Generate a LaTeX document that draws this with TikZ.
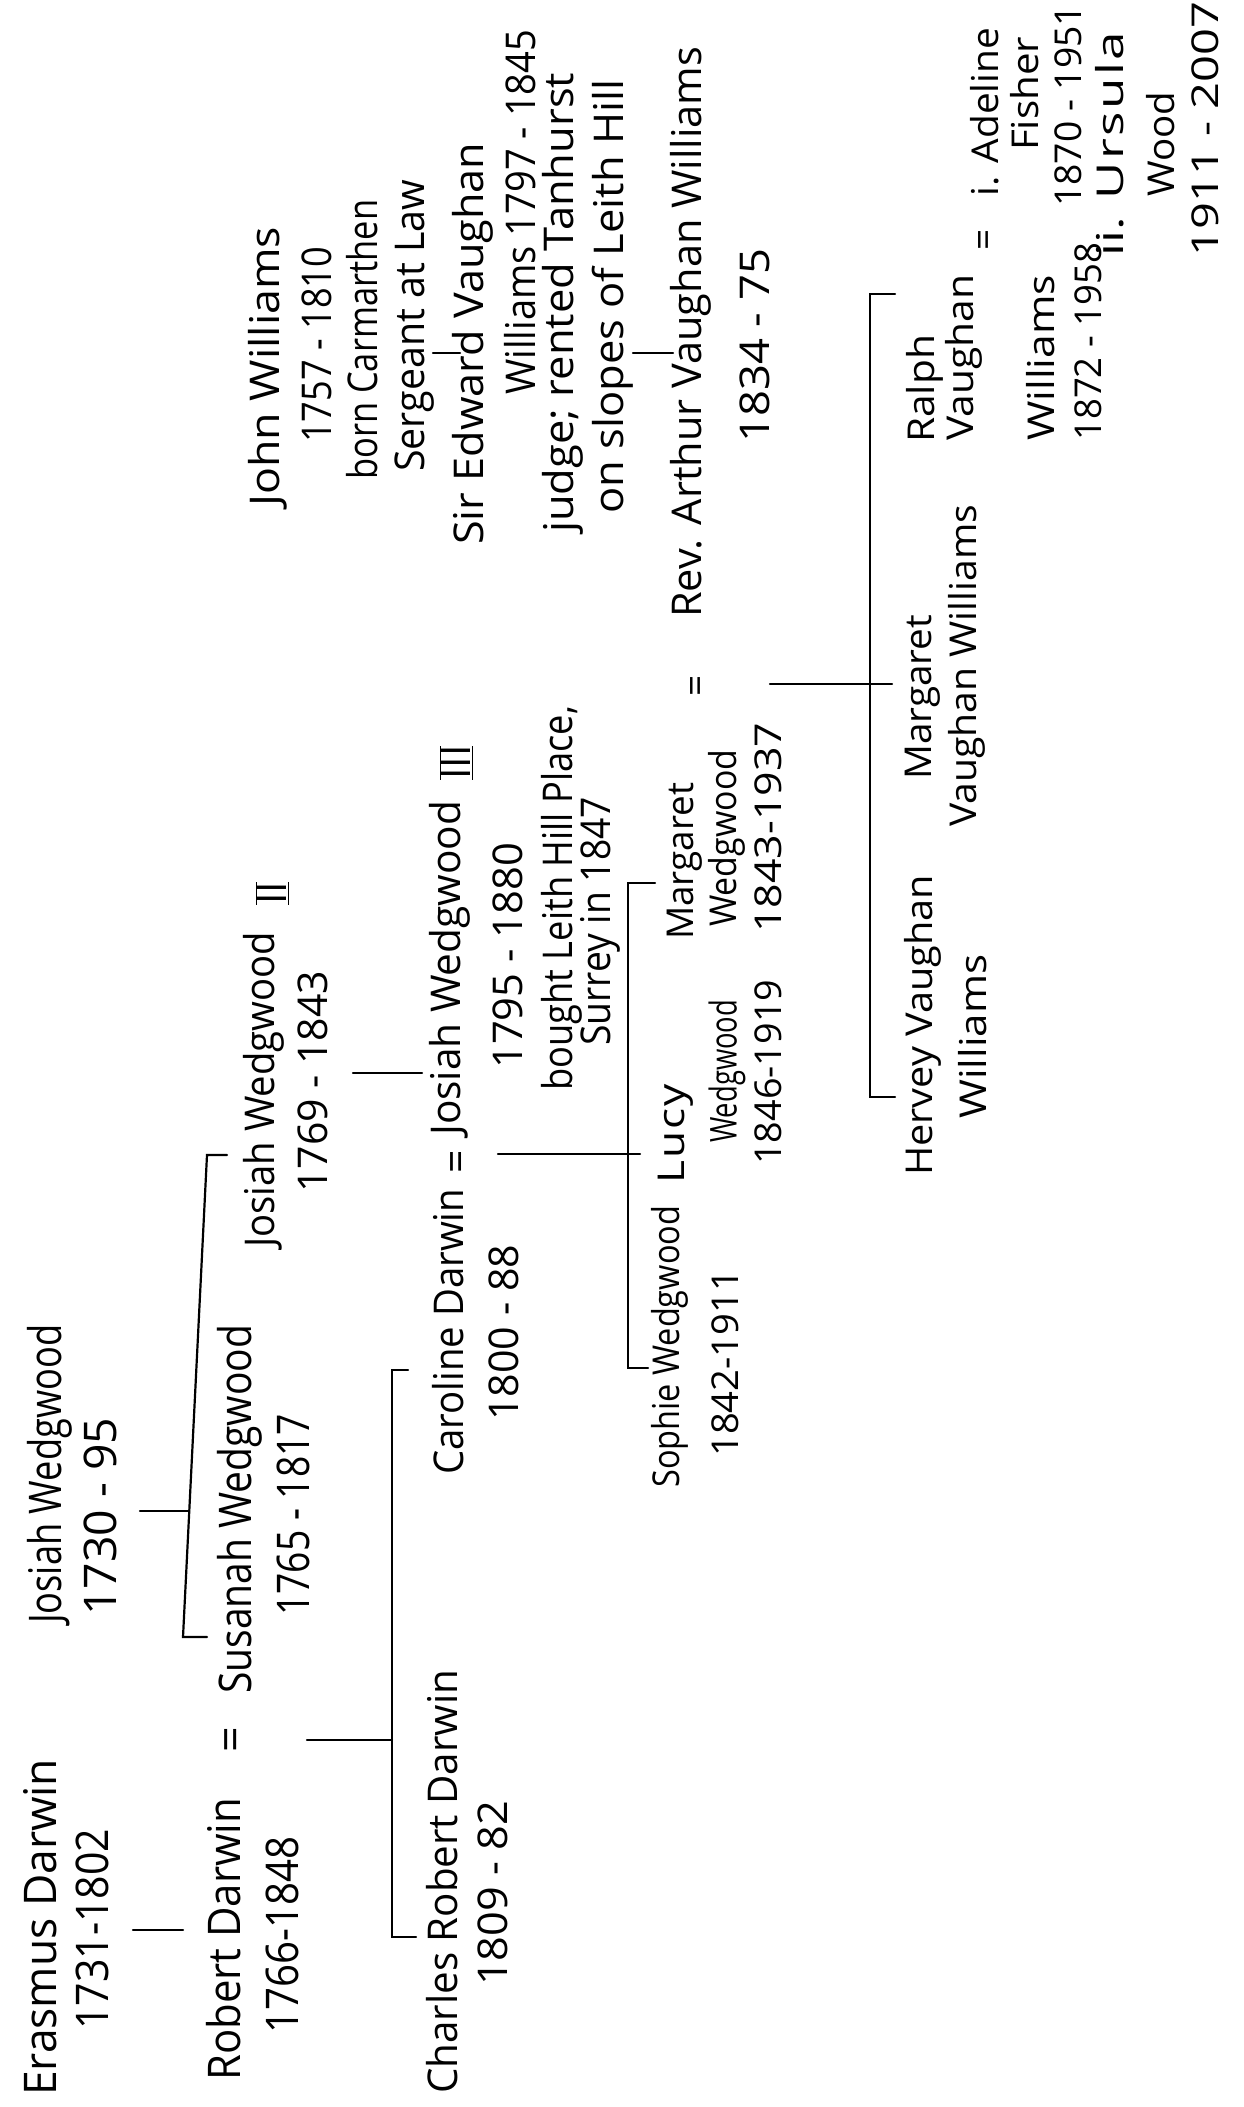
\documentclass[tikz,border=0pt]{standalone}
\usepackage{fontspec}
\setmainfont{Open Sans}
\usepackage{graphicx}
\newcommand\fw[2]{\resizebox{#1pt}{\height}{#2}}
\newcommand\lsp[1]{{\addfontfeature{LetterSpace=5}#1}}
\newcommand\romnum[1]{$\overline{\underline{\mbox{#1}}}$}
\tikzset{
  hw/.style={rotate=90, anchor=west, inner sep=0pt},
  eqs/.style={rotate=90, anchor=center, inner sep=0pt},
  sA/.style={font=\fontsize{45}{50}\selectfont},
  sB/.style={font=\fontsize{41}{46}\selectfont},
  sC/.style={font=\fontsize{37}{42}\selectfont},
  ln/.style={line width=2.2pt, line cap=round, line join=miter}
}
\begin{document}
\begin{tikzpicture}[x=1pt, y=-1pt]
\fill[white] (0,0) rectangle (1243,2107);
\useasboundingbox (0,0) rectangle (1243,2107);

% ---- generation 1
\node[hw,sA] (erasmus)  at (40,2096)  {\fw{337}{Erasmus Darwin}};
\node[hw,sA] (erasmusd) at (92,2030)  {\fw{201}{1731-1802}};
\node[hw,sA] (josiah)   at (50,1624)  {\fw{299}{Josiah Wedgwood}};
\node[hw,sA] (josiahd)  at (100,1616) {\fw{198}{1730 - 95}};

% ---- generation 2
\node[hw,sA] (robert)   at (224,2081) {\fw{283}{Robert Darwin}};
\node[eqs,sA] (eqa)     at (236,1740) {=};
\node[hw,sA] (susanah)  at (240,1694) {\fw{369}{Susanah Wedgwood}};
\node[hw,sA] (robertd)  at (282,2034) {\fw{197}{1766-1848}};
\node[hw,sA] (susanahd) at (293,1616) {\fw{202}{1765 - 1817}};
\node[hw,sB] (josiahII) at (264,1248) {\fw{316}{Josiah Wedgwood}};
\node[hw,sB] (josiahIIn) at (272,905) {\romnum{II}};
\node[hw,sB] (josiahIId) at (313,1193) {\fw{222}{1769 - 1843}};

% ---- generation 3
\node[hw,sB] (charles)  at (442,2094) {\fw{424}{Charles Robert Darwin}};
\node[hw,sB] (charlesd) at (493,1986) {\fw{185}{1809 - 82}};
\node[hw,sB] (caroline) at (448,1475) {\fw{286}{Caroline Darwin}};
\node[eqs,sB] (eqb)     at (461,1162) {=};
\node[hw,sB] (josiahIII) at (450,1136) {\fw{335}{Josiah Wedgwood}};
\node[hw,sB] (josiahIIIn) at (456,780) {\romnum{III}};
\node[hw,sB] (carolined) at (504,1421) {\fw{176}{1800 - 88}};
\node[hw,sB] (josiahIIId) at (508,1069) {\fw{226}{1795 - 1880}};
\node[hw,sB] (bought)   at (562,1091) {\fw{385}{bought Leith Hill Place,}};
\node[hw,sB] (surrey)   at (600,1046) {\fw{249}{Surrey in 1847}};

% ---- generation 4 (Wedgwood daughters)
\node[hw,sC] (sophie)   at (670,1488) {\fw{282}{Sophie Wedgwood}};
\node[hw,sC] (sophied)  at (725,1457) {\fw{187}{1842-1911}};
\node[hw,sC] (lucy)     at (676,1184) {\fw{100}{\lsp{Lucy}}};
\node[hw,sC] (lucyw)    at (727,1143) {\fw{143}{Wedgwood}};
\node[hw,sC] (lucyd)    at (768,1165) {\fw{185}{1846-1919}};
\node[hw,sC] (margaret) at (685,940)  {\fw{157}{Margaret}};
\node[hw,sC] (margaretw) at (727,927) {\fw{177}{Wedgwood}};
\node[hw,sC] (margaretd) at (768,933) {\fw{210}{1843-1937}};
\node[eqs,sC] (eqc)     at (700,686)  {=};

% ---- Williams line
\node[hw,sB] (john)     at (268,507)  {\fw{280}{John Williams}};
\node[hw,sB] (johnd)    at (317,443)  {\fw{196}{1757 - 1810}};
\node[hw,sB] (born)     at (362,480)  {\fw{280}{born Carmarthen}};
\node[hw,sB] (serjeant) at (415,472)  {\fw{292}{Sergeant at Law}};
\node[hw,sB] (edward)   at (473,545)  {\fw{402}{Sir Edward Vaughan}};
\node[hw,sB] (edwardw)  at (520,395)  {\fw{365}{Williams 1797 - 1845}};
\node[hw,sB] (judge)    at (563,533)  {\fw{460}{judge; rented Tanhurst}};
\node[hw,sB] (slopes)   at (613,514)  {\fw{434}{on slopes of Leith Hill}};
\node[hw,sB] (arthur)   at (691,618)  {\fw{571}{Rev. Arthur Vaughan Williams}};
\node[hw,sB] (arthurd)  at (755,443)  {\fw{194}{1834 - 75}};

% ---- generation 5
\node[hw,sC] (hervey)   at (923,1176) {\fw{301}{Hervey Vaughan}};
\node[hw,sC] (herveyw)  at (973,1119) {\fw{164}{Williams}};
\node[hw,sC] (mvw)      at (923,780)  {\fw{165}{Margaret}};
\node[hw,sC] (mvw2)     at (967,827)  {\fw{322}{Vaughan Williams}};
\node[hw,sC] (ralph)    at (925,443)  {\fw{108}{Ralph}};
\node[hw,sC] (ralphv)   at (964,441)  {\fw{166}{Vaughan}};
\node[eqs,sC] (eqd)     at (988,240)  {=};
\node[hw,sC] (adeline)  at (985,197)  {\fw{169}{i. Adeline}};
\node[hw,sC] (fisher)   at (1025,151) {\fw{114}{Fisher}};
\node[hw,sC] (adelined) at (1068,207) {\fw{202}{1870 - 1951}};
\node[hw,sC] (ralphw)   at (1041,441) {\fw{166}{Williams}};
\node[hw,sC] (ralphd)   at (1088,441) {\fw{198}{1872 - 1958}};
\node[hw,sC] (ursula)   at (1110,257) {\fw{225}{ii. \lsp{Ursula}}};
\node[hw,sC] (wood)     at (1161,197) {\fw{105}{Wood}};
\node[hw,sC] (ursulad)  at (1205,257) {\fw{255}{1911 - 2007}};

% ---- connector coordinates
\coordinate (c1a) at (133,1930); \coordinate (c1b) at (183,1930);
\coordinate (c2a) at (140,1511); \coordinate (c2b) at (189,1511);
\coordinate (b1t) at (207,1155); \coordinate (b1tt) at (227,1155);
\coordinate (b1b) at (183,1637); \coordinate (b1bt) at (207,1637);
\coordinate (c3a) at (307,1740); \coordinate (c3b) at (392,1740);
\coordinate (b2t) at (392,1370); \coordinate (b2tt) at (408,1370);
\coordinate (b2b) at (392,1937); \coordinate (b2bt) at (416,1937);
\coordinate (c4a) at (353,1073); \coordinate (c4b) at (422,1073);
\coordinate (c5a) at (498,1154); \coordinate (c5b) at (640,1154);
\coordinate (b3t) at (628,883);  \coordinate (b3tt) at (655,883);
\coordinate (b3b) at (628,1368); \coordinate (b3bt) at (648,1368);
\coordinate (c6a) at (770,684);  \coordinate (c6b) at (892,684);
\coordinate (b4t) at (870,294);  \coordinate (b4tt) at (895,294);
\coordinate (b4b) at (870,1097); \coordinate (b4bt) at (895,1097);
\coordinate (c7a) at (433,353);  \coordinate (c7b) at (460,353);
\coordinate (c8a) at (633,353);  \coordinate (c8b) at (673,353);

\draw[ln] (c1a) -- (c1b);
\draw[ln] (c2a) -- (c2b);
\draw[ln] (b1tt) -- (b1t) -- (b1b) -- (b1bt);
\draw[ln] (c3a) -- (c3b);
\draw[ln] (b2tt) -- (b2t) -- (b2b) -- (b2bt);
\draw[ln] (c4a) -- (c4b);
\draw[ln] (c5a) -- (c5b);
\draw[ln] (b3tt) -- (b3t) -- (b3b) -- (b3bt);
\draw[ln] (c6a) -- (c6b);
\draw[ln] (b4tt) -- (b4t) -- (b4b) -- (b4bt);
\draw[ln] (c7a) -- (c7b);
\draw[ln] (c8a) -- (c8b);
\end{tikzpicture}
\end{document}
